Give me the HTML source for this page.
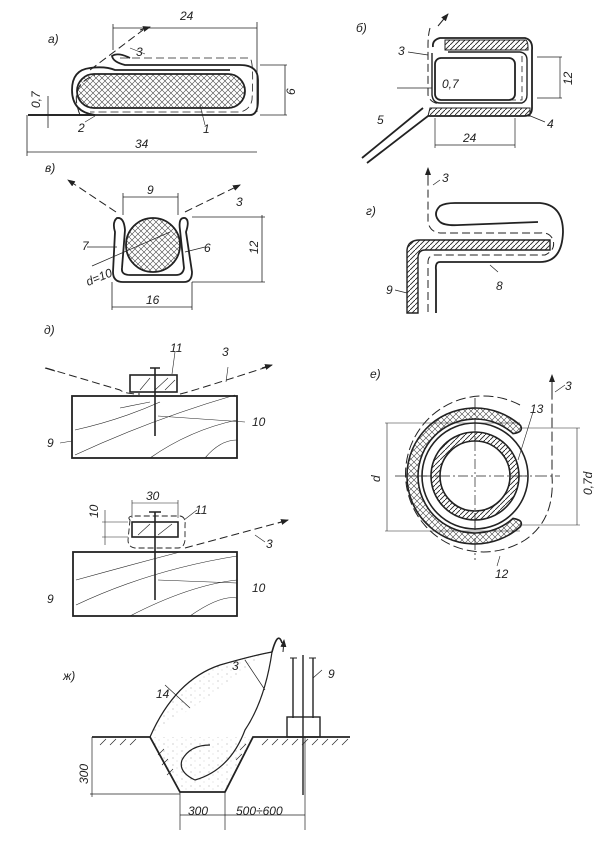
<!DOCTYPE html>
<html><head><meta charset="utf-8"><style>
html,body{margin:0;padding:0;background:#fff}
svg{display:block}
text{font-family:"Liberation Sans",sans-serif;font-style:italic;font-size:12px;fill:#222}
</style></head><body>
<svg width="603" height="844" viewBox="0 0 603 844" xmlns="http://www.w3.org/2000/svg">
<defs>
<pattern id="xh" width="6" height="6" patternUnits="userSpaceOnUse"><path d="M0 6L6 0M0 0L6 6" stroke="#444" stroke-width="0.6"/></pattern>
<pattern id="sh" width="5" height="5" patternUnits="userSpaceOnUse"><path d="M0 5L5 0" stroke="#222" stroke-width="0.9"/></pattern>
<pattern id="dots" width="9" height="7" patternUnits="userSpaceOnUse"><circle cx="2" cy="2" r="0.5" fill="#888"/><circle cx="6" cy="5" r="0.4" fill="#999"/></pattern>
<marker id="ar" markerWidth="8" markerHeight="6" refX="7" refY="3" orient="auto"><path d="M0 0L8 3L0 6z" fill="#222"/></marker>
</defs>
<g fill="none" stroke="#222" stroke-width="1">
<!-- а -->
<path d="M113 28H257M113 24V50M257 22V112" stroke-width="0.8"/>
<path d="M28 115H250" stroke-width="1.8"/>
<path d="M250 115Q258 115 258 100V80Q258 65 240 65H125Q113 62 112 56Q118 52 130 58" stroke-width="1.8"/>
<path d="M28 115H95Q72 112 72 90Q72 70 90 68Q105 66 115 70H230" stroke-width="1.8"/>
<rect x="77" y="74" width="168" height="34" rx="17" fill="url(#xh)" stroke-width="1.8"/>
<path d="M80 115Q68 85 95 75M90 70L143 30" stroke-dasharray="8 4"/>
<path d="M120 58H250Q254 62 252 100Q250 110 240 112H90" stroke-dasharray="8 4" stroke-width="0.8"/>
<path d="M140 30L150 27" marker-end="url(#ar)"/>
<path d="M27 152H257M27 115V156M260 65H287M260 115H287M285 65V115M48 96V128" stroke-width="0.8"/>
<path d="M85 122L95 116M205 125L200 105M130 48L145 54" stroke-width="0.6"/>
<!-- в -->
<path d="M123 197H178M123 193V215M178 193V215M192 217H265M192 282H265M262 215V282M112 282V310M192 282V310M112 307H192" stroke-width="0.8"/>
<path d="M125 230Q124 217 117 218Q112 222 115 232L113 272Q113 282 123 282H184Q192 282 192 272L186 232Q190 220 185 218Q178 217 180 230L184 268Q183 275 176 275H130Q121 275 122 268Z" stroke-width="1.8"/>
<circle cx="153" cy="245" r="27" fill="url(#xh)" stroke-width="1.8"/>
<path d="M116 212L68 180" stroke-dasharray="8 4" marker-end="url(#ar)"/>
<path d="M185 212L240 185" stroke-dasharray="8 4" marker-end="url(#ar)"/>
<path d="M92 266L170 232M87 247H117M185 252L205 247" stroke-width="0.7"/>
<!-- б -->
<path d="M433 47Q432 40 440 38H525Q533 40 532 50V108Q532 116 524 116H428L367 163M423 108L362 158" stroke-width="1.8"/>
<path d="M445 40H525Q528 40 528 48V50H445Z" fill="url(#sh)" stroke-width="1"/>
<path d="M430 108H530V116H428Z" fill="url(#sh)" stroke-width="1"/>
<rect x="435" y="58" width="80" height="42" rx="6" stroke-width="1.8"/>
<path d="M432 53V95Q433 103 440 103H522Q527 101 527 95V60Q527 53 520 52H448" stroke-width="1.4"/>
<path d="M430 28Q428 35 428 45V95Q430 103 440 104" stroke-dasharray="8 4"/>
<path d="M438 26L448 14" marker-end="url(#ar)"/>
<path d="M522 56Q522 100 522 100H445M450 52H518" stroke-dasharray="6 4" stroke-width="0.8"/>
<path d="M537 57H562M537 98H562M560 57V98M435 118V148M515 118V148M435 145H515M397 88H432M408 52L428 55M528 115L545 122" stroke-width="0.7"/>
<!-- г -->
<path d="M440 222Q432 214 440 206Q445 203 455 203H540Q563 205 563 232Q562 262 540 262H440Q435 262 436 270V313" stroke-width="1.8"/>
<path d="M440 222Q445 226 460 225L538 222" stroke-width="1.8"/>
<path d="M420 240H550V250H425Q418 250 418 258V313H407V250Q408 240 420 240Z" fill="url(#sh)" stroke-width="1.4"/>
<path d="M428 312V262Q428 256 434 255H545Q556 250 553 240Q550 232 540 233H440Q430 232 428 222V180" stroke-dasharray="8 4"/>
<path d="M428 182V168" marker-end="url(#ar)"/>
<path d="M490 265L498 272M395 290L407 293M433 185L440 180" stroke-width="0.7"/>
<!-- д upper -->
<rect x="72" y="396" width="165" height="62" stroke-width="1.8"/>
<path d="M75 430Q120 420 160 402M75 455Q150 420 235 395M150 458Q190 430 237 420M205 458Q220 440 237 440M120 408L150 402" stroke-width="0.6"/>
<rect x="130" y="375" width="47" height="17" fill="#fff" stroke-width="1.6"/>
<path d="M140 390L150 378M155 390L168 378M165 390L175 380" stroke-width="0.6"/>
<path d="M155 368V436M150 368H160" stroke-width="1.6"/>
<path d="M46 368L120 390Q125 394 140 394M180 394Q190 392 270 366" stroke-dasharray="8 4"/>
<path d="M55 371L45 368M262 368L272 365" marker-end="url(#ar)"/>
<path d="M158 416L245 422M60 443L72 441M175 352L172 374M228 367L226 382" stroke-width="0.6"/>
<!-- д lower -->
<rect x="73" y="552" width="164" height="64" stroke-width="1.8"/>
<path d="M76 580Q130 565 180 552M76 605Q150 570 237 556M130 616Q190 585 237 580M190 616Q220 595 237 598" stroke-width="0.6"/>
<rect x="132" y="522" width="46" height="15" stroke-width="1.6"/>
<path d="M138 535L150 524M158 535L172 524" stroke-width="0.6"/>
<path d="M155 512V600M149 512H161" stroke-width="1.6"/>
<path d="M130 520Q127 517 132 516H180Q186 517 185 525V540Q184 548 178 548H135Q128 547 128 540Z" stroke-dasharray="6 3" stroke-width="0.9"/>
<path d="M185 548L285 521" stroke-dasharray="8 4"/>
<path d="M278 523L288 520" marker-end="url(#ar)"/>
<path d="M132 503H178M132 500V518M178 500V518M102 522H128M102 537H128M105 510V545M158 580L237 583M184 520L197 510M255 535L265 542" stroke-width="0.6"/>
<!-- е -->
<path d="M475 398V560M395 476H560M405 476H420" stroke-dasharray="12 3 2 3" stroke-width="0.8"/>
<circle cx="475" cy="476" r="44" fill="url(#sh)" stroke-width="1.6"/>
<circle cx="475" cy="476" r="35" fill="#fff" stroke-width="1.6"/>
<path d="M475 423V529M422 476H528" stroke-dasharray="10 3 2 3" stroke-width="0.7"/>
<circle cx="475" cy="476" r="53" stroke-width="1.6"/>
<path d="M520.5 425.5A68 68 0 1 0 520.5 526.5Q524 520 513.1 518.4A57 57 0 1 1 513.1 433.6Q524 432 520.5 425.5Z" fill="url(#xh)" stroke-width="1.6"/>
<path d="M520 405A78 78 0 1 0 525 540Q555 520 552 476V375" stroke-dasharray="10 4"/>
<path d="M552 390V375" marker-end="url(#ar)"/>
<path d="M385 423H520M385 531H520M387 423V531M520 428H580M520 525H580M577 428V525M518 460L533 412M500 556L497 566M555 392L565 385" stroke-width="0.6"/>
<!-- ж -->
<path d="M150 737Q175 680 220 665Q255 655 272 652" fill="url(#dots)" stroke-width="0.7"/>
<path d="M150 737L180 792H225L253 737" fill="url(#dots)" stroke="none"/>
<path d="M150 737Q175 680 220 665Q255 655 272 652Q265 700 245 730Q230 770 195 780Q178 772 182 760Q190 745 210 745" stroke-width="1.2"/>
<path d="M272 652Q278 630 282 643" stroke-width="1.6"/>
<path d="M283 652L284 640" marker-end="url(#ar)"/>
<path d="M92 737H150L180 792H225L253 737H350" stroke-width="1.8"/>
<path d="M100 745l6-6M110 745l6-6M120 745l6-6M130 745l6-6M158 755l6-6M162 765l6-6M167 775l6-6M236 760l6-6M240 750l6-6M262 745l6-6M272 745l6-6M282 745l6-6M292 745l6-6M302 745l6-6M312 745l6-6M322 745l6-6M332 745l6-6M342 745l6-6" stroke-width="0.7"/>
<path d="M293 658V718M313 658V718M303 655V795" stroke-width="1.4"/>
<path d="M290 658H297M309 658H316" stroke-width="1"/>
<rect x="287" y="717" width="33" height="20" stroke-width="1.4"/>
<path d="M92 737V797M90 794H180M180 792V830M225 792V830M305 737V830M180 815H305M165 685L190 708M245 660L265 690M313 678L322 670" stroke-width="0.7"/>
</g>
<text x="48" y="43">а)</text>
<text x="180" y="20">24</text>
<text x="136" y="56">3</text>
<text x="78" y="132">2</text>
<text x="203" y="133">1</text>
<text x="135" y="148">34</text>
<text transform="translate(295,95) rotate(-90)">6</text>
<text transform="translate(40,108) rotate(-90)" font-size="10">0,7</text>
<text x="45" y="172">в)</text>
<text x="147" y="194">9</text>
<text x="236" y="206">3</text>
<text x="82" y="250">7</text>
<text x="204" y="252">6</text>
<text transform="translate(88,286) rotate(-22)">d=10</text>
<text transform="translate(258,254) rotate(-90)">12</text>
<text x="146" y="304">16</text>
<text x="356" y="32">б)</text>
<text x="398" y="55">3</text>
<text x="442" y="88" font-size="11">0,7</text>
<text transform="translate(572,85) rotate(-90)">12</text>
<text x="547" y="128">4</text>
<text x="463" y="142">24</text>
<text x="377" y="124">5</text>
<text x="366" y="215">г)</text>
<text x="442" y="182">3</text>
<text x="496" y="290">8</text>
<text x="386" y="294">9</text>
<text x="44" y="334">д)</text>
<text x="170" y="352">11</text>
<text x="222" y="356">3</text>
<text x="252" y="426">10</text>
<text x="47" y="447">9</text>
<text x="146" y="500">30</text>
<text transform="translate(98,518) rotate(-90)">10</text>
<text x="195" y="514">11</text>
<text x="266" y="548">3</text>
<text x="252" y="592">10</text>
<text x="47" y="603">9</text>
<text x="370" y="378">е)</text>
<text x="565" y="390">3</text>
<text x="530" y="413">13</text>
<text transform="translate(380,482) rotate(-90)">d</text>
<text transform="translate(592,495) rotate(-90)">0,7d</text>
<text x="495" y="578">12</text>
<text x="63" y="680">ж)</text>
<text x="156" y="698">14</text>
<text x="232" y="670">3</text>
<text x="328" y="678">9</text>
<text transform="translate(88,784) rotate(-90)">300</text>
<text x="188" y="815">300</text>
<text x="236" y="815">500÷600</text>
</svg>
</body></html>
